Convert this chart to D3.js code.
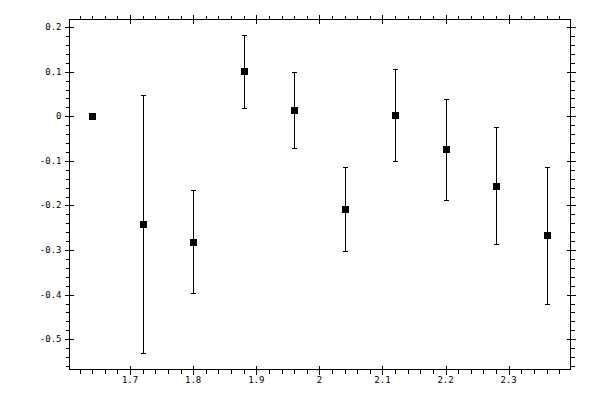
<!DOCTYPE html>
<html>
<head>
<meta charset="utf-8">
<script src="https://cdn.jsdelivr.net/npm/d3@7"></script>
<style>
  body { margin: 0; background: #fff; }
  svg { display: block; }
  text { font-family: "DejaVu Sans Mono", monospace; font-size: 9px; fill: #000; }
</style>
</head>
<body>
<div id="chart"></div>
<script>
// values
const xVals = [1.64, 1.72, 1.80, 1.88, 1.96, 2.04, 2.12, 2.20, 2.28, 2.36];
const yVals = [0, -0.242, -0.282, 0.101, 0.013, -0.208, 0.002, -0.074, -0.157, -0.267];
const yHigh = [0, 0.047, -0.166, 0.182, 0.099, -0.114, 0.105, 0.038, -0.025, -0.114];
const yLow  = [0, -0.531, -0.397, 0.018, -0.072, -0.302, -0.101, -0.188, -0.287, -0.421];

const xMajor = [1.7, 1.8, 1.9, 2.0, 2.1, 2.2, 2.3];
const yMajor = [0.2, 0.1, 0, -0.1, -0.2, -0.3, -0.4, -0.5];

const W = 600, H = 400;
const plotL = 69.5, plotR = 570.5, plotT = 19.5, plotB = 369.5;

const x = d3.scaleLinear().domain([1.604, 2.398]).range([plotL, plotR]);
const y = d3.scaleLinear().domain([-0.568, 0.217]).range([plotB, plotT]);

const svg = d3.select("#chart").append("svg")
  .attr("width", W).attr("height", H);

const g = svg.append("g")
  .attr("stroke", "#000").attr("stroke-width", 1)
  .attr("shape-rendering", "crispEdges");

// minor ticks every 0.02, pointing outward
const xMinor = d3.range(1.62, 2.39, 0.02).filter(v => !xMajor.some(m => Math.abs(m - v) < 1e-6));
const yMinor = d3.range(-0.56, 0.21, 0.02).filter(v => !yMajor.some(m => Math.abs(m - v) < 1e-6));

xMinor.forEach(v => {
  const px = Math.round(x(v)) + 0.5;
  g.append("line").attr("x1", px).attr("x2", px).attr("y1", plotB).attr("y2", plotB + 4);
  g.append("line").attr("x1", px).attr("x2", px).attr("y1", plotT).attr("y2", plotT - 4);
});
yMinor.forEach(v => {
  const py = Math.round(y(v)) + 0.5;
  g.append("line").attr("y1", py).attr("y2", py).attr("x1", plotL).attr("x2", plotL - 4);
  g.append("line").attr("y1", py).attr("y2", py).attr("x1", plotR).attr("x2", plotR + 4);
});

// major ticks cross the frame
xMajor.forEach(v => {
  const px = Math.round(x(v)) + 0.5;
  g.append("line").attr("x1", px).attr("x2", px).attr("y1", plotB - 4).attr("y2", plotB + 5);
  g.append("line").attr("x1", px).attr("x2", px).attr("y1", plotT - 5).attr("y2", plotT + 4);
});
yMajor.forEach(v => {
  const py = Math.round(y(v)) + 0.5;
  g.append("line").attr("y1", py).attr("y2", py).attr("x1", plotL - 5).attr("x2", plotL + 4);
  g.append("line").attr("y1", py).attr("y2", py).attr("x1", plotR - 4).attr("x2", plotR + 5);
});

// frame
g.append("rect")
  .attr("x", plotL).attr("y", plotT)
  .attr("width", plotR - plotL).attr("height", plotB - plotT)
  .attr("fill", "none");

// tick labels
svg.selectAll(".xl").data(xMajor).enter().append("text")
  .attr("x", d => x(d)).attr("y", plotB + 13.5)
  .attr("text-anchor", "middle")
  .text(d => String(+d.toFixed(1)));

svg.selectAll(".yl").data(yMajor).enter().append("text")
  .attr("x", plotL - 8).attr("y", d => y(d) + 3)
  .attr("text-anchor", "end")
  .text(d => String(+d.toFixed(1)));

// error bars
const pts = xVals.map((v, i) => ({x: v, y: yVals[i], hi: yHigh[i], lo: yLow[i]}));
const bars = g.selectAll(".err").data(pts).enter().append("g");
bars.append("line")
  .attr("x1", d => Math.round(x(d.x)) + 0.5).attr("x2", d => Math.round(x(d.x)) + 0.5)
  .attr("y1", d => y(d.hi)).attr("y2", d => y(d.lo));
bars.append("line")
  .attr("x1", d => Math.round(x(d.x)) - 2).attr("x2", d => Math.round(x(d.x)) + 3)
  .attr("y1", d => Math.round(y(d.hi)) + 0.5).attr("y2", d => Math.round(y(d.hi)) + 0.5);
bars.append("line")
  .attr("x1", d => Math.round(x(d.x)) - 2).attr("x2", d => Math.round(x(d.x)) + 3)
  .attr("y1", d => Math.round(y(d.lo)) + 0.5).attr("y2", d => Math.round(y(d.lo)) + 0.5);

// square markers
svg.selectAll(".pt").data(pts).enter().append("rect")
  .attr("shape-rendering", "crispEdges")
  .attr("x", d => Math.round(x(d.x)) - 3).attr("y", d => Math.round(y(d.y)) - 3)
  .attr("width", 7).attr("height", 7)
  .attr("fill", "#000");
</script>
</body>
</html>
